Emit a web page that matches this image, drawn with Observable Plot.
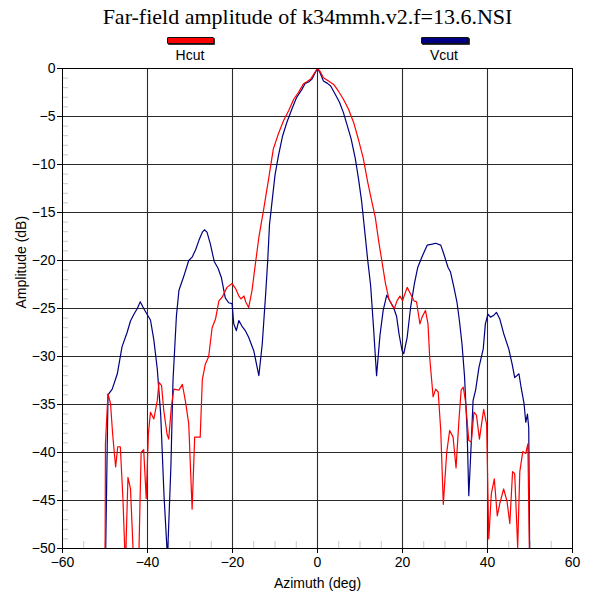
<!DOCTYPE html>
<html>
<head>
<meta charset="utf-8">
<script src="https://cdn.jsdelivr.net/npm/d3@7"></script>
<script src="https://cdn.jsdelivr.net/npm/@observablehq/plot@0.6"></script>
<style>
  html, body { margin: 0; padding: 0; background: #fff; }
  #wrap { position: relative; width: 591px; height: 594px; overflow: hidden; background: #fff; }
  #title { position: absolute; left: 24px; top: 4px; width: 567px; text-align: center;
           font-family: "Liberation Serif", "Times New Roman", serif; font-size: 22px; color: #000; }
  .lgbar { position: absolute; height: 5px; border: 1px solid #111; box-shadow: 1px 1px 0 #333; border-radius: 1px; }
  .lglab { position: absolute; font-family: "Liberation Sans", Arial, sans-serif; font-size: 14px; color: #000; text-align: center; width: 60px; }
  #chart { position: absolute; left: 0; top: 60px; }
</style>
</head>
<body>
<div id="wrap">
  <div id="title">Far-field amplitude of k34mmh.v2.f=13.6.NSI</div>
  <div class="lgbar" style="left:167px; top:37px; width:45px; background:#ff0000;"></div>
  <div class="lglab" style="left:160px; top:47px;">Hcut</div>
  <div class="lgbar" style="left:421px; top:37px; width:46px; background:#000080;"></div>
  <div class="lglab" style="left:414px; top:47px;">Vcut</div>
  <div id="chart"></div>
</div>
<script>
const seriesNames = ["Hcut", "Vcut"];
const seriesColors = ["#ff0000", "#000080"];

const hAz = [-50.0,-49.9,-49.3,-48.7,-48.2,-47.5,-47.0,-46.4,-45.8,-45.2,-44.6,-44.0,-43.4,-42.8,-42.1,-41.5,-40.9,-40.3,-39.8,-39.3,-38.5,-37.7,-37.3,-36.7,-36.2,-35.4,-35.0,-34.4,-33.8,-32.6,-31.8,-31.1,-30.3,-29.5,-28.9,-27.6,-27.1,-26.4,-25.6,-24.8,-24.0,-23.2,-22.4,-21.3,-20.1,-19.3,-18.5,-18.0,-17.3,-16.9,-16.2,-15.4,-14.6,-13.8,-12.6,-11.5,-10.4,-9.2,-8.0,-6.8,-5.6,-4.5,-3.3,-2.5,-1.6,-0.9,0,0.6,1.4,2.6,3.8,4.9,6.1,7.3,8.5,9.6,10.8,11.8,12.8,13.6,14.4,15.2,16.0,16.8,17.6,18.1,18.7,19.4,20.0,21.1,21.9,22.7,23.3,24.1,24.6,25.4,26.0,26.4,27.2,27.8,28.4,29.0,29.6,30.4,31.1,31.9,32.6,33.3,33.8,34.3,34.8,35.6,36.2,36.8,37.4,38.1,39.1,39.8,40.3,40.9,41.6,42.3,42.9,43.8,44.6,45.25,45.9,46.4,47.1,47.6,48.3,49.0,49.5,50.0];
const hDb = [-55,-39.1,-33.9,-34.9,-38.1,-41.5,-39.4,-39.4,-44.6,-52,-42.6,-43.8,-50,-53,-52,-40.0,-39.7,-44.8,-38.1,-35.8,-36.5,-34.6,-32.7,-33.0,-35.5,-38.1,-38.6,-35.3,-33.4,-33.5,-32.9,-34.6,-37.0,-45.9,-38.4,-38.4,-32.4,-30.8,-30.0,-27.0,-26.1,-24.2,-23.8,-22.8,-22.4,-22.9,-23.7,-24.0,-23.7,-24.3,-24.9,-23.1,-20.3,-17.6,-14.5,-11.5,-8.4,-6.8,-5.45,-4.4,-3.2,-2.5,-1.6,-1.38,-1.1,-0.6,0,-0.3,-0.97,-1.31,-1.66,-2.34,-3.2,-4.24,-5.62,-7.34,-9.41,-11.8,-13.9,-15.5,-18.0,-20.2,-22.4,-24.0,-24.7,-25.0,-24.2,-23.7,-24.2,-22.8,-23.5,-24.2,-24.3,-26.6,-25.9,-25.2,-26.6,-30.1,-34.2,-33.4,-33.7,-37.7,-45.4,-40.0,-37.7,-38.4,-41.6,-36.5,-33.5,-33.2,-34.6,-38.75,-38.9,-35.8,-36.1,-38.6,-35.5,-37.1,-49.0,-44.3,-42.75,-46.6,-45.3,-43.8,-45.1,-47.4,-42.0,-42.2,-49.9,-42.0,-39.9,-40.1,-39.1,-55];

const vAz = [-50.0,-49.3,-48.3,-47.1,-46.0,-44.8,-44.0,-43.2,-42.4,-41.7,-40.9,-40.1,-39.3,-38.5,-37.7,-36.9,-36.1,-35.3,-34.5,-34.0,-33.2,-32.6,-31.5,-30.3,-29.5,-28.7,-27.9,-27.1,-26.6,-26.0,-25.2,-24.3,-23.4,-22.6,-21.7,-20.9,-20.1,-19.7,-19.1,-18.5,-17.7,-17.0,-16.2,-15.0,-13.8,-13.0,-12.2,-11.7,-11.3,-10.7,-10.0,-9.2,-8.2,-7.2,-6.0,-4.9,-3.7,-2.9,-2.1,-1.3,-0.55,0,0.6,1.4,2.35,3.1,4.2,5.2,6.1,6.9,7.9,8.9,9.65,10.4,11.2,11.8,12.5,13.2,13.9,14.7,15.45,16.3,17.0,17.9,18.6,19.2,19.9,20.3,21.1,21.9,22.8,23.6,24.6,25.8,27.0,27.8,29.0,29.7,30.7,31.3,32.1,32.8,33.4,34.0,34.6,35.2,35.6,36.2,36.6,37.2,38.0,39.0,39.5,40.1,40.7,41.5,42.1,42.9,43.8,45.0,45.8,46.4,47.4,47.9,48.6,49.0,49.4,49.7,50.0];
const vDb = [-55,-34.0,-33.4,-31.8,-29.0,-27.5,-26.3,-25.6,-25.0,-24.3,-25.0,-25.6,-26.2,-28.3,-31.3,-36.0,-44.6,-51,-41.5,-32.5,-25.8,-23.1,-21.7,-20.0,-19.65,-18.9,-17.9,-17.05,-16.8,-17.05,-18.3,-20.1,-20.8,-21.8,-23.9,-24.4,-24.5,-26.6,-27.3,-26.25,-26.9,-27.3,-28.0,-29.4,-32.0,-28.7,-23.5,-19.9,-16.3,-13.9,-11.1,-9.1,-7.0,-5.6,-4.2,-3.0,-2.2,-1.55,-1.4,-1.1,-0.45,0,-0.45,-1.3,-1.55,-1.83,-2.7,-3.55,-4.6,-5.8,-7.3,-9.4,-11.5,-13.9,-17.3,-19.9,-22.6,-27.1,-32.0,-27.8,-25.2,-23.6,-24.2,-24.9,-25.8,-27.7,-29.4,-29.7,-28.0,-24.9,-22.4,-20.7,-19.6,-18.4,-18.3,-18.2,-18.4,-19.3,-20.7,-21.2,-22.8,-24.3,-26.3,-28.7,-32.1,-37.7,-44.5,-38.75,-34.6,-33.5,-31.1,-29.2,-26.6,-25.6,-25.9,-25.7,-25.4,-26.1,-27.6,-29.2,-30.8,-32.2,-31.8,-33.2,-34.9,-36.85,-36.0,-37.4,-55];

const xTicks = [-60, -40, -20, 0, 20, 40, 60];
const xGrid = [-40, -20, 0, 20, 40];
const xMinor = [-55, -50, -45, -35, -30, -25, -15, -10, -5, 5, 10, 15, 25, 30, 35, 45, 50, 55];
const yTicks = [0, -5, -10, -15, -20, -25, -30, -35, -40, -45, -50];
const yGrid = [-5, -10, -15, -20, -25, -30, -35, -40, -45];
const yMinor = d3.range(-49, 0).filter(v => v % 5 !== 0);
const xLabel = "Azimuth (deg)";
const yLabel = "Amplitude (dB)";

const hData = hAz.map((a, i) => ({az: a, db: hDb[i]}));
const vData = vAz.map((a, i) => ({az: a, db: vDb[i]}));

const chart = Plot.plot({
  width: 591,
  height: 534,
  marginTop: 8,
  marginLeft: 62,
  marginRight: 19,
  marginBottom: 46,
  style: {fontFamily: "'Liberation Sans', Arial, sans-serif", fontSize: "14px", background: "#fff", color: "#000", overflow: "visible"},
  x: {domain: [-60, 60]},
  y: {domain: [-50, 0]},
  marks: [
    Plot.axisY({ticks: yMinor, tickSize: -6, stroke: "#c8c8c8", text: null, label: null}),
    Plot.axisX({ticks: xMinor, tickSize: -7, stroke: "#c8c8c8", text: null, label: null}),
    Plot.ruleY(yGrid, {stroke: "#2a2a2a", strokeWidth: 1.1}),
    Plot.ruleX(xGrid, {stroke: "#2a2a2a", strokeWidth: 1.1}),
    Plot.line(vData, {x: "az", y: "db", stroke: seriesColors[1], strokeWidth: 1.2, clip: true}),
    Plot.line(hData, {x: "az", y: "db", stroke: seriesColors[0], strokeWidth: 1.2, clip: true}),
    Plot.frame({stroke: "#000", strokeWidth: 1}),
    Plot.axisY({ticks: yTicks, tickSize: 5, tickPadding: 2, label: null, fontSize: 14}),
    Plot.axisX({ticks: xTicks, tickSize: 5, tickPadding: 4, label: null, fontSize: 14}),
    Plot.text([yLabel], {frameAnchor: "left", rotate: -90, dx: -41, fontSize: 14}),
    Plot.text([xLabel], {frameAnchor: "bottom", dy: 39, fontSize: 14})
  ]
});
document.getElementById("chart").appendChild(chart);
</script>
</body>
</html>
